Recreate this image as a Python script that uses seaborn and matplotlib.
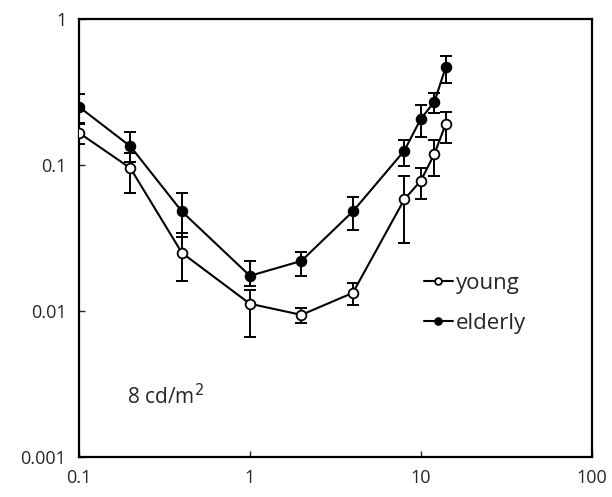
import numpy as np
import pandas as pd
import matplotlib
matplotlib.use("Agg")
import matplotlib.pyplot as plt
import seaborn as sns

# ========================== data ==========================
freq = [0.1, 0.2, 0.4, 1, 2, 4, 8, 10, 12, 14]

young = [0.166, 0.095, 0.025, 0.0112, 0.0094, 0.0133, 0.058, 0.078, 0.119, 0.191]
young_lo = [0.14, 0.064, 0.016, 0.0066, 0.0083, 0.011, 0.029, 0.058, 0.084, 0.141]
young_hi = [0.195, 0.12, 0.034, 0.014, 0.0105, 0.0155, 0.084, 0.095, 0.148, 0.23]

elderly = [0.25, 0.134, 0.048, 0.0174, 0.022, 0.048, 0.125, 0.207, 0.27, 0.469]
elderly_lo = [0.19, 0.105, 0.032, 0.0149, 0.0174, 0.036, 0.098, 0.155, 0.227, 0.364]
elderly_hi = [0.306, 0.168, 0.064, 0.022, 0.0253, 0.060, 0.148, 0.258, 0.31, 0.558]

groups = ["young", "elderly"]
facecolors = {"young": "white", "elderly": "black"}

df = pd.concat([
    pd.DataFrame({"freq": freq, "val": young, "lo": young_lo, "hi": young_hi, "group": "young"}),
    pd.DataFrame({"freq": freq, "val": elderly, "lo": elderly_lo, "hi": elderly_hi, "group": "elderly"}),
], ignore_index=True)

# ========================== plot ==========================
sns.set_style("white")
plt.rcParams["font.family"] = ["Open Sans", "DejaVu Sans"]
plt.rcParams["mathtext.default"] = "regular"

fig = plt.figure(figsize=(6.12, 4.97), dpi=100)
ax = fig.add_axes([0.129, 0.0805, 0.838, 0.8815])

for g in groups:
    sub = df[df["group"] == g]
    ax.errorbar(sub["freq"], sub["val"],
                yerr=[sub["val"] - sub["lo"], sub["hi"] - sub["val"]],
                fmt="none", ecolor="black", elinewidth=1.4, capsize=4, capthick=1.4, zorder=2)
    sns.lineplot(data=sub, x="freq", y="val", ax=ax, color="black", lw=1.5,
                 marker="o", markersize=7, markerfacecolor=facecolors[g],
                 markeredgecolor="black", markeredgewidth=1.3, label=g, zorder=3)

ax.set_xscale("log")
ax.set_yscale("log")
ax.set_xlim(0.1, 100)
ax.set_ylim(0.001, 1)
ax.set_xticks([0.1, 1, 10, 100])
ax.set_xticklabels(["0.1", "1", "10", "100"])
ax.set_yticks([0.001, 0.01, 0.1, 1])
ax.set_yticklabels(["0.001", "0.01", "0.1", "1"])
ax.minorticks_off()
ax.tick_params(axis="both", direction="in", length=4, width=1, labelsize=13)
ax.tick_params(axis="x", pad=9)
ax.tick_params(axis="y", pad=9)
ax.tick_params(top=False, right=False, left=True, bottom=True)
ax.set_xlabel("")
ax.set_ylabel("")
for s in ax.spines.values():
    s.set_color("black")
    s.set_linewidth(1.6)

ax.text(0.094, 0.137, "8 cd/m$^{\\mathsf{2}}$", transform=ax.transAxes, fontsize=15,
        ha="left", va="center")

ax.legend(loc="upper left", bbox_to_anchor=(0.655, 0.44), frameon=False, fontsize=16,
          handlelength=1.3, handletextpad=0.15, labelspacing=0.85, markerscale=0.7,
          borderaxespad=0)

fig.savefig("out.png", dpi=100)
plt.close()
